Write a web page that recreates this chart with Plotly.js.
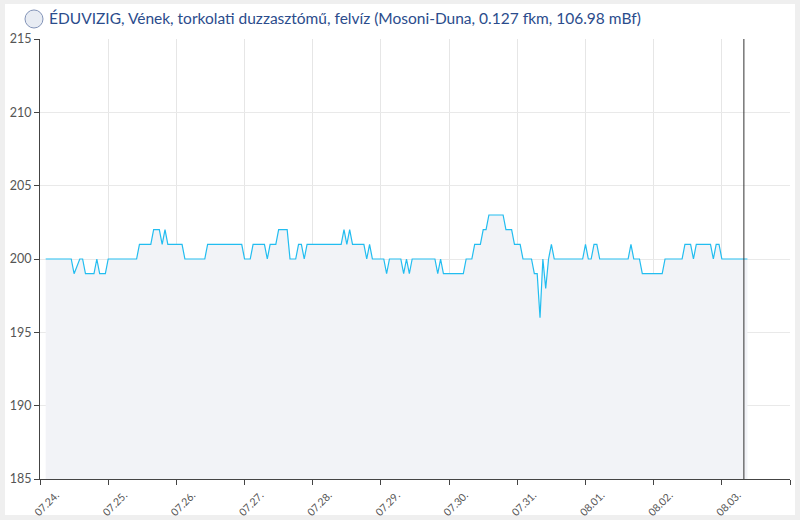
<!DOCTYPE html>
<html>
<head>
<meta charset="utf-8">
<script src="https://cdn.plot.ly/plotly-3.0.1.min.js"></script>
<style>
  body { margin: 0; background: #efefef; }
  #card { position: absolute; left: 5px; top: 4px; width: 790px; height: 511px; background: #fff; }
  #chart { position: absolute; left: 5px; top: 4px; width: 790px; height: 516px; }
</style>
</head>
<body>
<div id="card"></div>
<div id="chart"></div>
<script>
//Water level readings (mBf scaled), change points only
var times = [
    '2023-07-24 02:00', '2023-07-24 11:00', '2023-07-24 12:00', '2023-07-24 14:00', '2023-07-24 15:00',
    '2023-07-24 16:00', '2023-07-24 19:00', '2023-07-24 20:00', '2023-07-24 21:00', '2023-07-24 23:00',
    '2023-07-25 00:00', '2023-07-25 10:00', '2023-07-25 11:00', '2023-07-25 15:00', '2023-07-25 16:00',
    '2023-07-25 18:00', '2023-07-25 19:00', '2023-07-25 20:00', '2023-07-25 21:00',
    '2023-07-26 02:00', '2023-07-26 03:00', '2023-07-26 10:00', '2023-07-26 11:00', '2023-07-26 23:00',
    '2023-07-27 00:00', '2023-07-27 02:00', '2023-07-27 03:00', '2023-07-27 07:00', '2023-07-27 08:00',
    '2023-07-27 09:00', '2023-07-27 11:00', '2023-07-27 12:00', '2023-07-27 15:00', '2023-07-27 16:00',
    '2023-07-27 18:00', '2023-07-27 19:00', '2023-07-27 20:00', '2023-07-27 21:00', '2023-07-27 22:00',
    '2023-07-28 10:00', '2023-07-28 11:00', '2023-07-28 12:00', '2023-07-28 13:00', '2023-07-28 14:00',
    '2023-07-28 18:00', '2023-07-28 19:00', '2023-07-28 20:00', '2023-07-28 21:00',
    '2023-07-29 01:00', '2023-07-29 02:00', '2023-07-29 03:00', '2023-07-29 07:00', '2023-07-29 08:00',
    '2023-07-29 09:00', '2023-07-29 10:00', '2023-07-29 11:00', '2023-07-29 19:00', '2023-07-29 20:00',
    '2023-07-29 21:00', '2023-07-29 22:00',
    '2023-07-30 05:00', '2023-07-30 06:00', '2023-07-30 08:00', '2023-07-30 09:00', '2023-07-30 11:00',
    '2023-07-30 12:00', '2023-07-30 13:00', '2023-07-30 14:00', '2023-07-30 19:00', '2023-07-30 20:00',
    '2023-07-30 22:00', '2023-07-30 23:00',
    '2023-07-31 01:00', '2023-07-31 02:00', '2023-07-31 05:00', '2023-07-31 06:00', '2023-07-31 07:00',
    '2023-07-31 08:00', '2023-07-31 09:00', '2023-07-31 10:00', '2023-07-31 11:00', '2023-07-31 12:00',
    '2023-07-31 13:00', '2023-07-31 23:00',
    '2023-08-01 00:00', '2023-08-01 01:00', '2023-08-01 02:00', '2023-08-01 03:00', '2023-08-01 04:00',
    '2023-08-01 05:00', '2023-08-01 15:00', '2023-08-01 16:00', '2023-08-01 17:00', '2023-08-01 19:00',
    '2023-08-01 20:00',
    '2023-08-02 03:00', '2023-08-02 04:00', '2023-08-02 10:00', '2023-08-02 11:00', '2023-08-02 13:00',
    '2023-08-02 14:00', '2023-08-02 15:00', '2023-08-02 20:00', '2023-08-02 21:00', '2023-08-02 22:00',
    '2023-08-02 23:00',
    '2023-08-03 00:00', '2023-08-03 09:00'
]

var levels = [
    200, 200, 199, 200, 200,
    199, 199, 200, 199, 199,
    200, 200, 201, 201, 202,
    202, 201, 202, 201,
    201, 200, 200, 201, 201,
    200, 200, 201, 201, 200,
    201, 201, 202, 202, 200,
    200, 201, 201, 200, 201,
    201, 202, 201, 202, 201,
    201, 200, 201, 200,
    200, 199, 200, 200, 199,
    200, 199, 200, 200, 199,
    200, 199,
    199, 200, 200, 201, 201,
    202, 202, 203, 203, 202,
    202, 201,
    201, 200, 200, 199, 199,
    196, 200, 198, 200, 201,
    200, 200,
    201, 200, 200, 201, 201,
    200, 200, 201, 200, 200,
    199,
    199, 200, 200, 201, 201,
    200, 201, 201, 200, 201,
    201,
    200, 200
]

var yTicks = [185, 190, 195, 200, 205, 210, 215]
var nowTime = '2023-08-03 07:45'
var titleText = 'ÉDUVIZIG, Vének, torkolati duzzasztómű, felvíz (Mosoni-Duna, 0.127 fkm, 106.98 mBf)'

var CHART = document.getElementById('chart')

let dataline = {
    x: times,
    y: levels,
    mode: 'lines',
    fill: 'tozeroy',
    fillcolor: '#f2f3f7',
    line: { color: '#22bdf0', width: 1.2 },
    showlegend: false,
    hoverinfo: 'x+y'
}

let layout = {
    width: 790,
    height: 516,
    paper_bgcolor: 'rgba(0,0,0,0)',
    plot_bgcolor: '#ffffff',
    margin: { l: 35, r: 5, t: 35, b: 41 },
    font: { family: 'Lato, "Open Sans", sans-serif', color: '#555' },
    title: {
        text: titleText,
        font: { size: 15.5, color: '#2b4c8c', family: 'Lato, sans-serif' },
        xref: 'container', x: 0.0557, xanchor: 'left',
        yref: 'container', y: 0.971, yanchor: 'middle'
    },
    xaxis: {
        type: 'date',
        range: ['2023-07-24 00:00', '2023-08-03 23:59'],
        dtick: 86400000,
        tick0: '2023-07-24',
        tickformat: '%m.%d.',
        tickangle: -45,
        ticklabelshift: 16,
        tickfont: { size: 10.5, color: '#555' },
        ticks: 'outside', ticklen: 5, tickcolor: '#444',
        showline: true, linecolor: '#444', linewidth: 1,
        showgrid: true, gridcolor: '#e6e6e6',
        zeroline: false
    },
    yaxis: {
        range: [185, 215],
        tickvals: yTicks,
        tickfont: { size: 12.5, color: '#555' },
        ticks: 'outside', ticklen: 5, tickcolor: '#444',
        showline: true, linecolor: '#444', linewidth: 1,
        showgrid: true, gridcolor: '#e9e9e9',
        zeroline: false
    },
    shapes: [
        {
            type: 'line', xref: 'x', yref: 'paper',
            x0: nowTime, x1: nowTime, y0: 0, y1: 1,
            line: { color: '#333', width: 1 }
        },
        {
            type: 'circle', xref: 'paper', yref: 'paper',
            x0: -0.02, x1: 0.004, y0: 1.025, y1: 1.066,
            fillcolor: '#e8ecf3', line: { color: '#8394b8', width: 1 }
        }
    ]
}

Plotly.newPlot(CHART, [dataline], layout, { displayModeBar: false, staticPlot: true })
</script>
</body>
</html>
